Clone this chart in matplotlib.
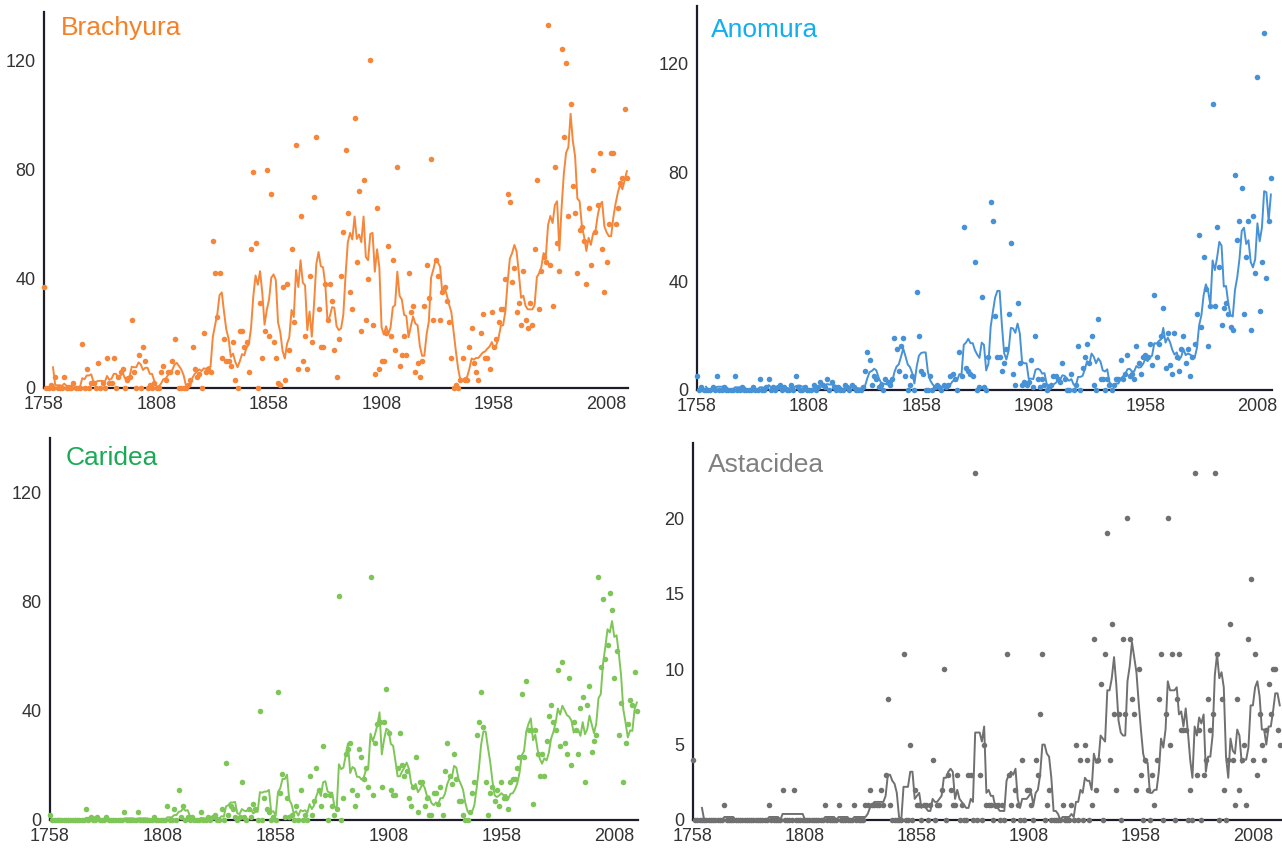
import numpy as np
import pandas as pd
import matplotlib
matplotlib.use('Agg')
import matplotlib.pyplot as plt

plt.rcParams['font.family'] = ['Liberation Sans', 'DejaVu Sans']

# species described per year, starting in 1758 (one value per year)
first_year = 1758
tick_years = [1758, 1808, 1858, 1908, 1958, 2008]

brachyura = [
    37, 0, 0, 1, 0, 4, 0, 0, 0, 4,          # 1758
    0, 0, 0, 2, 0, 0, 0, 16, 0, 7,          # 1768
    0, 2, 2, 0, 9, 0, 2, 0, 11, 2,          # 1778
    2, 11, 0, 4, 6, 7, 0, 3, 4, 25,         # 1788
    6, 0, 12, 0, 15, 10, 0, 1, 0, 2,        # 1798
    0, 0, 6, 8, 3, 6, 6, 10, 18, 6,         # 1808
    0, 0, 0, 0, 1, 3, 15, 7, 4, 5,          # 1818
    0, 20, 6, 7, 6, 54, 42, 26, 42, 11,     # 1828
    18, 10, 10, 8, 17, 3, 0, 21, 21, 15,    # 1838
    17, 6, 51, 79, 53, 0, 31, 11, 21, 80,   # 1848
    19, 71, 17, 11, 2, 1, 37, 3, 38, 14,    # 1858
    51, 24, 89, 7, 63, 10, 19, 7, 41, 17,   # 1868
    70, 92, 29, 15, 15, 38, 25, 38, 32, 14, # 1878
    4, 18, 41, 57, 87, 64, 35, 29, 99, 46,  # 1888
    72, 21, 76, 25, 40, 120, 23, 5, 66, 7,  # 1898
    10, 10, 20, 52, 19, 47, 14, 81, 8, 12,  # 1908
    19, 12, 42, 28, 30, 6, 9, 4, 10, 30,    # 1918
    45, 33, 84, 25, 47, 41, 25, 35, 37, 32, # 1928
    24, 11, 0, 1, 0, 3, 11, 3, 3, 15,       # 1938
    22, 9, 6, 3, 20, 27, 11, 11, 7, 28,     # 1948
    15, 18, 24, 29, 29, 40, 71, 68, 39, 44, # 1958
    28, 31, 23, 43, 25, 22, 31, 23, 51, 76, # 1968
    29, 43, 48, 46, 133, 45, 30, 81, 53, 43,    # 1978
    124, 92, 119, 63, 104, 74, 64, 42, 58, 59,  # 1988
    54, 38, 66, 45, 80, 57, 67, 86, 51, 35,     # 1998
    46, 60, 86, 86, 60, 66, 75, 77, 102, 77,    # 2008
]

anomura = [
    5, 0, 1, 0, 0, 0, 0, 1, 0, 5,           # 1758
    0, 0, 1, 0, 0, 0, 0, 5, 0, 0,           # 1768
    1, 0, 0, 0, 0, 1, 0, 0, 4, 0,           # 1778
    0, 1, 4, 0, 1, 0, 1, 2, 0, 1,           # 1788
    0, 0, 2, 0, 5, 1, 0, 0, 1, 0,           # 1798
    0, 0, 2, 0, 1, 3, 2, 1, 4, 0,           # 1808
    3, 1, 0, 1, 0, 0, 2, 1, 0, 2,           # 1818
    1, 0, 0, 0, 1, 7, 14, 11, 2, 5,         # 1828
    4, 1, 2, 0, 4, 3, 2, 4, 19, 15,         # 1838
    7, 16, 19, 5, 0, 2, 5, 0, 36, 20,       # 1848
    7, 6, 0, 0, 5, 0, 1, 2, 1, 0,           # 1858
    2, 1, 2, 5, 6, 4, 0, 14, 5, 60,         # 1868
    8, 7, 6, 5, 47, 0, 1, 34, 1, 0,         # 1878
    12, 69, 62, 27, 12, 12, 7, 10, 15, 28,  # 1888
    54, 6, 2, 32, 10, 2, 3, 2, 3, 11,       # 1898
    1, 20, 4, 1, 4, 2, 0, 1, 2, 5,          # 1908
    5, 4, 3, 10, 4, 0, 0, 6, 0, 2,          # 1918
    16, 0, 8, 12, 17, 10, 20, 2, 0, 26,     # 1928
    4, 4, 0, 4, 2, 0, 2, 4, 4, 11,          # 1938
    4, 6, 13, 5, 6, 4, 16, 10, 6, 12,       # 1948
    13, 12, 17, 9, 35, 12, 17, 20, 30, 8,   # 1958
    21, 9, 6, 21, 12, 7, 15, 20, 10, 15,    # 1968
    5, 12, 17, 28, 57, 23, 49, 37, 16, 31,  # 1978
    105, 31, 60, 45, 24, 30, 32, 28, 23, 22,    # 1988
    79, 55, 62, 74, 28, 49, 62, 22, 64, 43,     # 1998
    115, 29, 47, 131, 41, 62, 78,               # 2008
]

caridea = [
    2, 0, 0, 0, 0, 0, 0, 0, 0, 0,           # 1758
    0, 0, 0, 0, 0, 0, 4, 0, 1, 0,           # 1768
    0, 1, 0, 0, 0, 1, 0, 0, 0, 0,           # 1778
    0, 0, 0, 3, 0, 0, 0, 0, 0, 3,           # 1788
    0, 0, 0, 0, 0, 0, 1, 0, 0, 0,           # 1798
    0, 0, 5, 0, 0, 4, 0, 11, 1, 5,          # 1808
    0, 1, 0, 1, 0, 0, 0, 3, 0, 0,           # 1818
    1, 0, 1, 2, 0, 0, 4, 0, 21, 2,          # 1828
    5, 4, 1, 0, 1, 14, 1, 0, 4, 1,          # 1838
    6, 4, 0, 40, 0, 8, 4, 3, 0, 1,          # 1848
    0, 47, 10, 17, 1, 8, 1, 2, 0, 5,        # 1858
    0, 11, 0, 2, 0, 16, 2, 7, 19, 11,       # 1868
    5, 27, 9, 0, 9, 5, 2, 4, 82, 0,         # 1878
    8, 24, 26, 28, 11, 5, 9, 26, 23, 15,    # 1888
    19, 12, 89, 9, 28, 35, 36, 12, 36, 48,  # 1898
    32, 11, 9, 9, 19, 32, 20, 16, 18, 8,    # 1908
    5, 12, 23, 3, 14, 14, 5, 8, 2, 2,       # 1918
    10, 10, 6, 12, 2, 18, 28, 16, 13, 24,   # 1928
    15, 7, 7, 2, 0, 0, 3, 10, 14, 31,       # 1938
    36, 47, 34, 14, 2, 10, 12, 7, 11, 5,    # 1948
    14, 8, 8, 4, 14, 15, 15, 19, 23, 46,    # 1958
    23, 51, 33, 33, 6, 33, 24, 16, 24, 16,  # 1968
    29, 38, 42, 36, 33, 55, 27, 58, 28, 24, # 1978
    52, 20, 36, 33, 24, 41, 45, 14, 42, 49, # 1988
    25, 29, 31, 89, 56, 81, 59, 64, 83, 77, # 1998
    52, 62, 31, 43, 14, 28, 35, 44, 42, 54, 40,  # 2008
]

astacidea = [
    4, 0, 0, 0, 0, 0, 0, 0, 0, 0,           # 1758
    0, 0, 0, 0, 1, 0, 0, 0, 0, 0,           # 1768
    0, 0, 0, 0, 0, 0, 0, 0, 0, 0,           # 1778
    0, 0, 0, 0, 1, 0, 0, 0, 0, 0,           # 1788
    2, 0, 0, 0, 0, 2, 0, 0, 0, 0,           # 1798
    0, 0, 0, 0, 0, 0, 0, 0, 0, 1,           # 1808
    0, 0, 0, 0, 0, 1, 0, 0, 0, 0,           # 1818
    0, 0, 1, 0, 0, 0, 0, 1, 1, 2,           # 1828
    1, 1, 1, 1, 2, 1, 3, 8, 1, 0,           # 1838
    0, 0, 0, 0, 11, 0, 0, 5, 0, 2,          # 1848
    1, 1, 0, 1, 1, 0, 1, 4, 0, 1,           # 1858
    1, 2, 10, 0, 3, 2, 1, 1, 3, 0,          # 1868
    1, 0, 0, 3, 3, 0, 23, 0, 3, 0,          # 1878
    5, 1, 1, 1, 0, 1, 1, 0, 1, 0,           # 1888
    11, 3, 1, 0, 2, 1, 0, 4, 0, 2,          # 1898
    2, 1, 0, 4, 3, 7, 11, 0, 1, 2,          # 1908
    0, 0, 0, 0, 0, 1, 0, 0, 0, 1,           # 1918
    0, 5, 0, 4, 0, 5, 4, 0, 1, 12,          # 1928
    2, 4, 9, 0, 11, 19, 4, 13, 7, 2,        # 1938
    7, 0, 12, 7, 20, 12, 8, 7, 2, 10,       # 1948
    3, 0, 4, 2, 0, 3, 1, 4, 8, 11,          # 1958
    0, 7, 20, 5, 11, 0, 8, 11, 6, 6,        # 1968
    6, 0, 2, 0, 23, 3, 6, 0, 3, 4,          # 1978
    8, 6, 7, 23, 11, 0, 8, 2, 0, 4,         # 1988
    13, 4, 1, 8, 2, 4, 5, 1, 12, 16,        # 1998
    4, 11, 3, 7, 5, 4, 6, 9, 7, 10, 10, 6, 5,   # 2008
]

W, H = 1282, 848
fig = plt.figure(figsize=(W / 100, H / 100), dpi=100)


def add_panel(box, xmax, ymax, yticks, values, name, title_color, color, title_pos):
    left, right, top, bottom = box
    ax = fig.add_axes([left / W, 1 - bottom / H, (right - left) / W, (bottom - top) / H])
    years = first_year + np.arange(len(values))
    smooth = pd.Series(values, dtype=float).rolling(5).mean()
    ax.plot(years, smooth, color=color, lw=1.4, zorder=3)
    ax.scatter(years, values, s=16, color=color, lw=0, zorder=4, clip_on=False)
    ax.set_xlim(first_year, xmax)
    ax.set_ylim(0, ymax)
    ax.set_xticks(tick_years)
    ax.set_yticks(yticks)
    for s in ['top', 'right']:
        ax.spines[s].set_visible(False)
    for s in ['left', 'bottom']:
        ax.spines[s].set_color('#1c1c2c')
        ax.spines[s].set_linewidth(1.6)
    ax.tick_params(length=0, labelsize=13, colors='#333333')
    ax.tick_params(axis='x', pad=6)
    ax.tick_params(axis='y', pad=6)
    fig.text(title_pos[0] / W, 1 - title_pos[1] / H, name, fontsize=19,
             color=title_color, va='baseline', ha='left')
    return ax


add_panel((44, 628, 12, 388), 2017.5, 137.7, [0, 40, 80, 120], brachyura,
          'Brachyura', '#F58025', '#F5863A', (61, 35))
add_panel((697, 1272, 6, 390), 2014.5, 141, [0, 40, 80, 120], anomura,
          'Anomura', '#12AEEF', '#4792D6', (711, 37))
add_panel((50, 638, 438, 820), 2018.5, 139.8, [0, 40, 80, 120], caridea,
          'Caridea', '#1AAA55', '#7DC657', (66, 465))
add_panel((693, 1282, 443, 820), 2021, 25, [0, 5, 10, 15, 20], astacidea,
          'Astacidea', '#808080', '#707070', (708, 472))

fig.savefig('out.png', dpi=100)
